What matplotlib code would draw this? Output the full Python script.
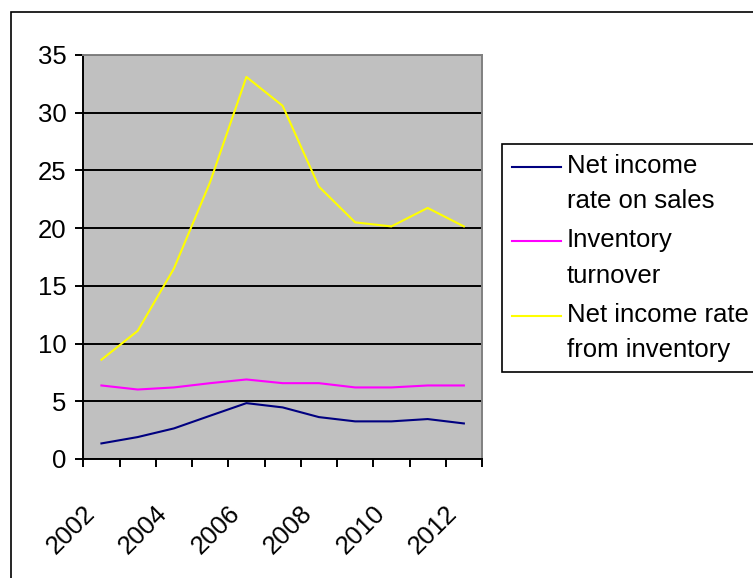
import matplotlib
matplotlib.use("Agg")
import matplotlib.pyplot as plt
import matplotlib.transforms as mtransforms
import numpy as np
from matplotlib.patches import Rectangle
from matplotlib.legend_handler import HandlerLine2D

years = [2002, 2003, 2004, 2005, 2006, 2007, 2008, 2009, 2010, 2011, 2012]
rate_on_sales = [1.35, 1.9, 2.65, 3.75, 4.84, 4.47, 3.63, 3.26, 3.26, 3.46, 3.08]
inventory_turnover = [6.37, 6.02, 6.2, 6.57, 6.89, 6.57, 6.57, 6.2, 6.2, 6.37, 6.37]
rate_from_inventory = [8.6, 11.1, 16.5, 24.0, 33.1, 30.6, 23.6, 20.5, 20.15, 21.75, 20.15]
labels = ["Net income\nrate on sales", "Inventory\nturnover", "Net income rate\nfrom inventory"]
colors = ["#000080", "#FF00FF", "#FFFF00"]

plt.rcParams['font.family'] = ['Liberation Sans', 'DejaVu Sans']


class FirstLineHandler(HandlerLine2D):
    # put the legend line next to the first text line (excel style)
    def create_artists(self, legend, orig_handle, xdescent, ydescent,
                       width, height, fontsize, trans):
        arts = super().create_artists(legend, orig_handle, xdescent, ydescent,
                                      width, height, fontsize, trans)
        for a in arts:
            if hasattr(a, "set_ydata"):
                a.set_ydata(np.asarray(a.get_ydata()) + 12.3)
        return arts


W, H = 753, 578
fig = plt.figure(figsize=(W / 100, H / 100), dpi=100)
ax = fig.add_axes([83.3 / W, 1 - 459 / H, (482 - 83.3) / W, (459 - 55) / H])

x = np.arange(len(years))
for ys, lab, c in zip([rate_on_sales, inventory_turnover, rate_from_inventory], labels, colors):
    ax.plot(x, ys, color=c, lw=1.5, label=lab)

ax.set_facecolor("#C0C0C0")
ax.set_xlim(-0.5, len(years) - 0.5)
ax.set_ylim(0, 35)
ax.set_yticks(range(0, 36, 5))
ax.yaxis.grid(True, color="black", lw=1.4)
ax.set_axisbelow(True)

ax.set_xticks(x[::2])
ax.set_xticklabels([str(y) for y in years[::2]], rotation=45, ha="right",
                   rotation_mode="anchor")
ax.set_xticks(np.arange(-0.5, len(years), 1), minor=True)
ax.tick_params(axis="x", which="major", length=0, pad=30, labelsize=18.5)
ax.tick_params(axis="x", which="minor", length=6, width=1.4, direction="out")
ax.tick_params(axis="y", length=6, width=1.4, labelsize=18.5, pad=6)

# shift the rotated year labels left, as in the original
shift = mtransforms.ScaledTranslation(-19 / 100, 0, fig.dpi_scale_trans)
for lbl in ax.get_xticklabels():
    lbl.set_transform(lbl.get_transform() + shift)

for s in ["left", "bottom"]:
    ax.spines[s].set_color("black")
    ax.spines[s].set_linewidth(1.4)
for s in ["top", "right"]:
    ax.spines[s].set_color("#808080")
    ax.spines[s].set_linewidth(1.4)

leg = ax.legend(loc="upper left", bbox_to_anchor=(502 / W, 1 - 144 / H),
                bbox_transform=fig.transFigure, fontsize=18.5, frameon=True,
                fancybox=False, edgecolor="black", framealpha=1,
                handlelength=1.9, handletextpad=0.22, borderpad=0.4,
                labelspacing=0.58, borderaxespad=0,
                handler_map={matplotlib.lines.Line2D: FirstLineHandler()})
leg.get_frame().set_linewidth(1.2)
for t in leg.get_texts():
    t.set_linespacing(1.59)

fig.patches.append(Rectangle((11 / W, -0.1), 1.2, 1.1 - 12 / H, transform=fig.transFigure,
                             fill=False, edgecolor="black", lw=1.2))

fig.savefig("out.png", dpi=100)
